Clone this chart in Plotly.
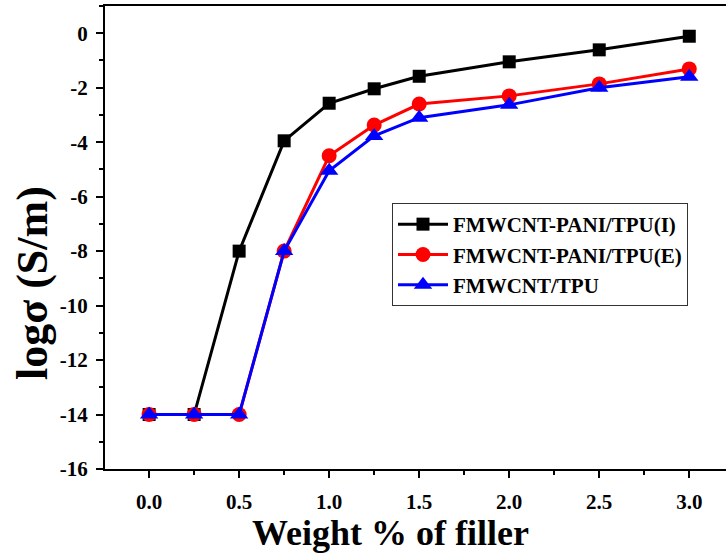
import plotly.graph_objects as go

# Filler loading (wt %) and log conductivity for each composite
weight_pct = [0.0, 0.25, 0.5, 0.75, 1.0, 1.25, 1.5, 2.0, 2.5, 3.0]
pani_tpu_i = [-14.0, -14.0, -8.0, -3.95, -2.57, -2.04, -1.58, -1.05, -0.61, -0.11]
pani_tpu_e = [-14.0, -14.0, -14.0, -8.0, -4.5, -3.37, -2.6, -2.3, -1.86, -1.31]
fmwcnt_tpu = [-14.0, -14.0, -14.0, -8.0, -5.05, -3.77, -3.1, -2.63, -2.0, -1.6]

series_names = ["FMWCNT-PANI/TPU(I)", "FMWCNT-PANI/TPU(E)", "FMWCNT/TPU"]

x_ticks = [0.0, 0.5, 1.0, 1.5, 2.0, 2.5, 3.0]
x_tick_text = ["0.0", "0.5", "1.0", "1.5", "2.0", "2.5", "3.0"]
y_ticks = [0, -2, -4, -6, -8, -10, -12, -14, -16]
y_tick_text = ["0", "-2", "-4", "-6", "-8", "-10", "-12", "-14", "-16"]

x_title = "Weight % of filler"
y_title = "logσ (S/m)"

serif = "Liberation Serif"

W, H = 726, 555
ML, MR, MT, MB = 105, 0, 6, 86


def bold(labels):
    return ["<b>%s</b>" % s for s in labels]


def paper_x(px):
    return (px - ML) / (W - ML - MR)


def paper_y(py):
    return (H - MB - py) / (H - MT - MB)


fig = go.Figure()
styles = [
    (pani_tpu_i, "black", "square", 13),
    (pani_tpu_e, "red", "circle", 15),
    (fmwcnt_tpu, "blue", "triangle-up", 16),
]
for (vals, color, sym, size), name in zip(styles, series_names):
    fig.add_trace(go.Scatter(
        x=weight_pct, y=vals, name="<b>%s</b>" % name, mode="lines+markers",
        line=dict(color=color, width=3),
        marker=dict(symbol=sym, size=size, color=color, line=dict(width=0)),
    ))

# Axis titles placed as annotations
fig.add_annotation(
    xref="paper", yref="paper", x=paper_x(390), y=paper_y(554),
    xanchor="center", yanchor="bottom", showarrow=False, borderpad=0,
    text="<b>%s</b>" % x_title, font=dict(family=serif, size=36, color="black"),
)
fig.add_annotation(
    xref="paper", yref="paper", x=paper_x(32), y=paper_y(283),
    xanchor="center", yanchor="middle", showarrow=False, textangle=-90,
    text="<b>%s</b>" % y_title, font=dict(family=serif, size=44, color="black"),
)

fig.update_layout(
    width=W, height=H,
    margin=dict(l=ML, r=MR, t=MT, b=MB),
    paper_bgcolor="white", plot_bgcolor="white",
    font=dict(family=serif, color="black"),
    showlegend=True,
    legend=dict(
        x=paper_x(392), y=paper_y(203), xanchor="left", yanchor="top",
        bgcolor="white", bordercolor="#333", borderwidth=1,
        font=dict(family=serif, size=21, color="black"),
        tracegroupgap=0, itemwidth=50,
    ),
    xaxis=dict(
        range=[-0.245, 3.204],
        tickvals=x_ticks, ticktext=bold(x_tick_text),
        ticks="outside", ticklen=7, tickwidth=2, tickcolor="black",
        minor=dict(dtick=0.25, tick0=0, ticks="outside", ticklen=4, tickwidth=2, tickcolor="black"),
        showline=True, linewidth=2, linecolor="black", mirror=True,
        showgrid=False, zeroline=False,
        tickfont=dict(family=serif, size=21, color="black"),
        ticklabelstandoff=6,
    ),
    yaxis=dict(
        range=[-16, 1.0],
        tickvals=y_ticks, ticktext=bold(y_tick_text),
        ticks="outside", ticklen=7, tickwidth=2, tickcolor="black",
        minor=dict(dtick=1, tick0=-15, ticks="outside", ticklen=4, tickwidth=2, tickcolor="black"),
        showline=True, linewidth=2, linecolor="black", mirror=False,
        showgrid=False, zeroline=False,
        tickfont=dict(family=serif, size=21, color="black"),
        ticklabelstandoff=4,
    ),
)

fig.write_html("out.html")
